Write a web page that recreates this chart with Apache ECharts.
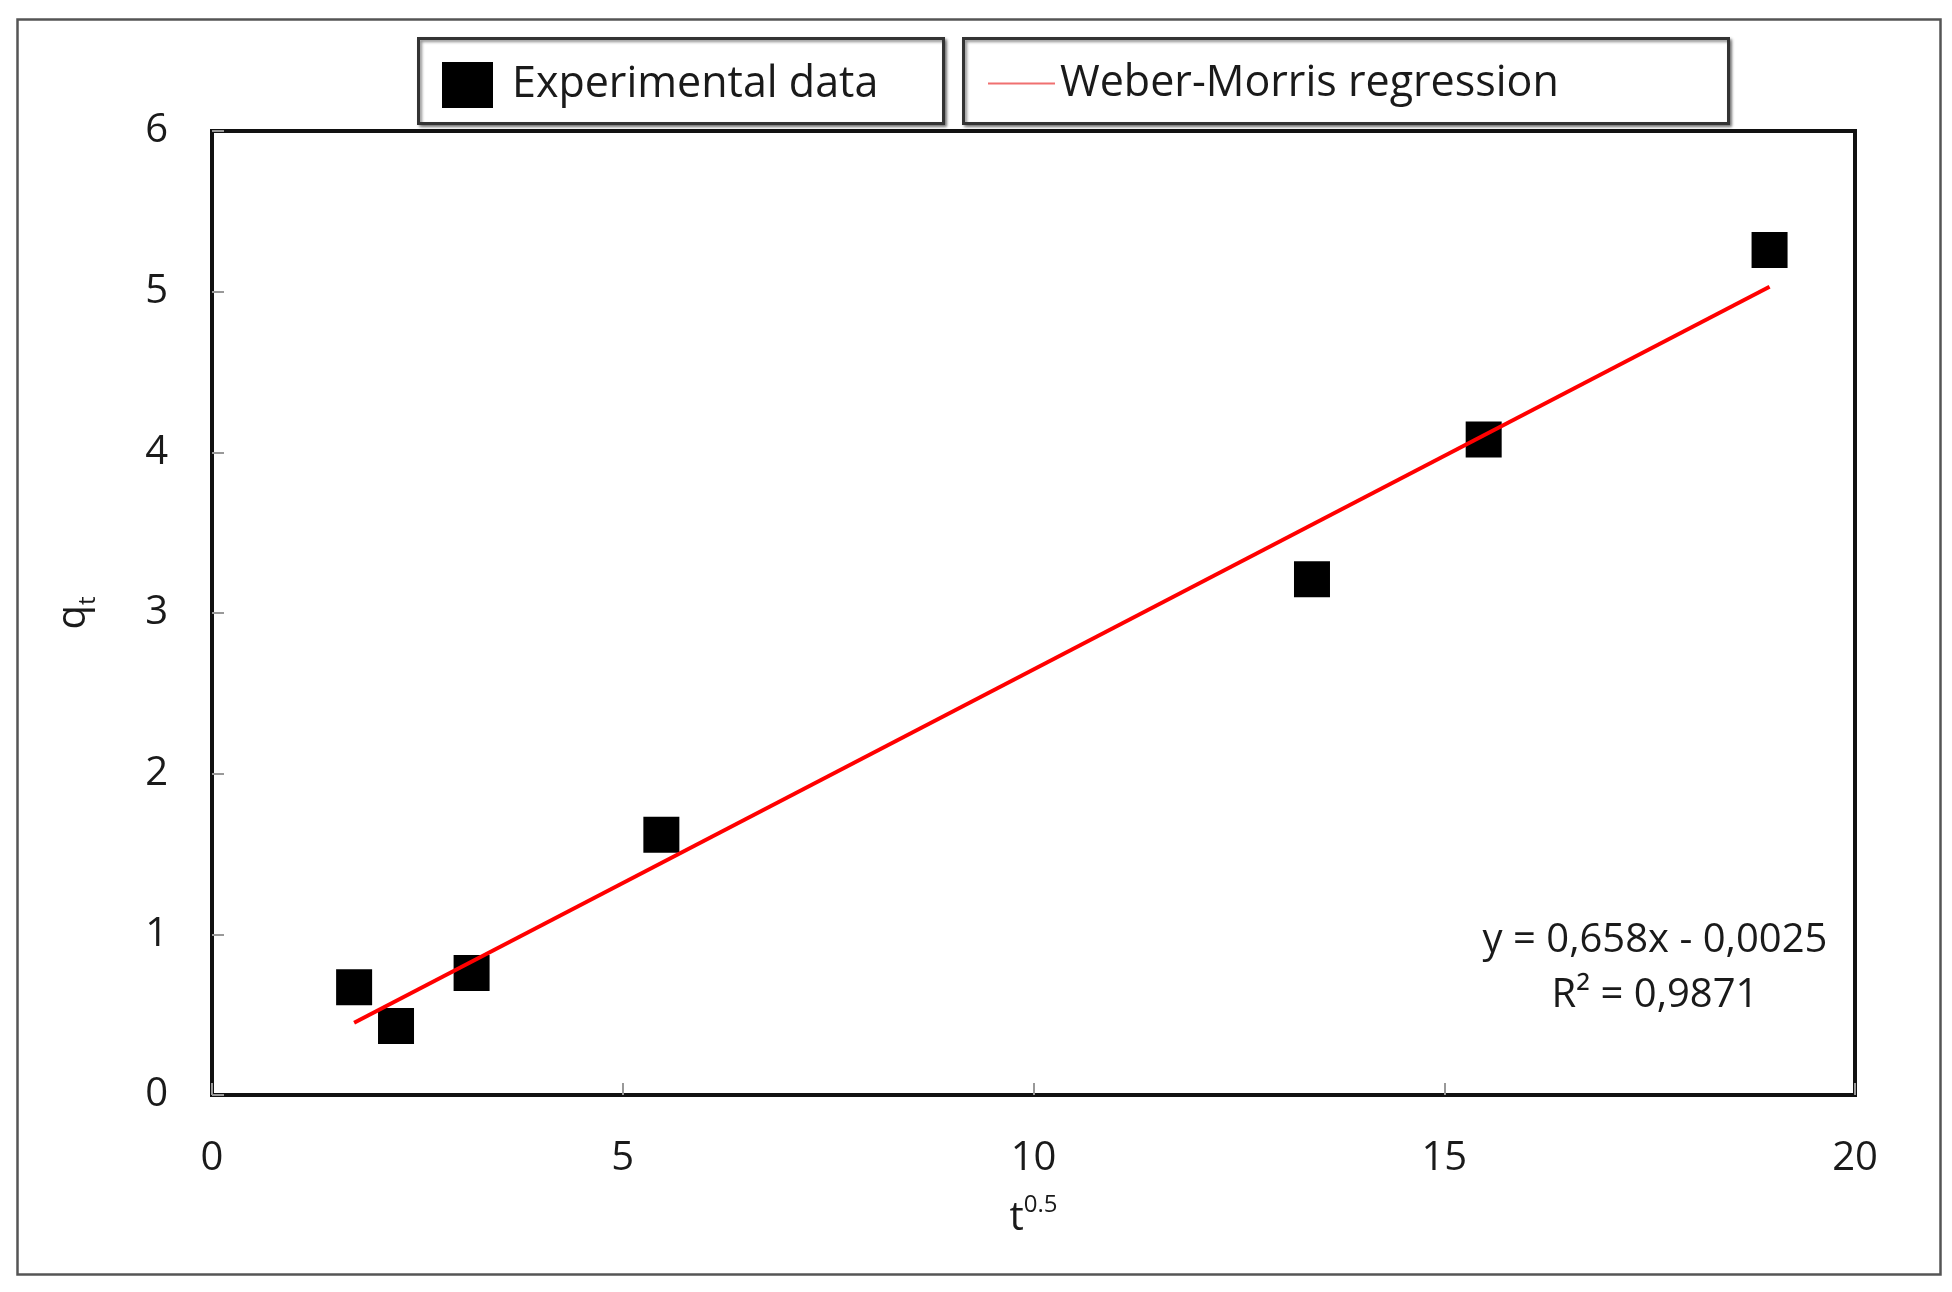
<!DOCTYPE html>
<html>
<head>
<meta charset="utf-8">
<script src="https://cdn.jsdelivr.net/npm/echarts@6/dist/echarts.min.js"></script>
<style>
html,body{margin:0;padding:0;background:#fff;}
#chart{width:1952px;height:1292px;}
</style>
</head>
<body>
<div id="chart"></div>
<script>
// Data
var tHalf = [1.73, 2.24, 3.16, 5.47, 13.39, 15.48, 18.96];
var qt = [0.67, 0.43, 0.76, 1.62, 3.21, 4.08, 5.26];
var fitX = [1.73, 18.96];
var fitY = [0.45, 5.03];
var xTicks = [0, 5, 10, 15, 20];
var yTicks = [0, 1, 2, 3, 4, 5, 6];
var seriesNames = ['Experimental data', 'Weber-Morris regression'];
var eqLines = ['y = 0,658x - 0,0025', 'R² = 0,9871'];

var FONT = 'Open Sans';
var TXT = '#1a1a1a';
var scatterData = tHalf.map(function (x, i) { return [x, qt[i]]; });
var lineData = fitX.map(function (x, i) { return [x, fitY[i]]; });

var chart = echarts.init(document.getElementById('chart'), null, {renderer: 'canvas'});
var option = {
  animation: false,
  backgroundColor: '#fff',
  textStyle: {fontFamily: FONT},
  grid: {left: 212, right: 97, top: 131, bottom: 197, show: true, borderColor: '#111', borderWidth: 4},
  xAxis: {
    type: 'value', min: xTicks[0], max: xTicks[xTicks.length - 1], interval: 5,
    name: '{b|t}{s|0.5}', nameLocation: 'middle', nameGap: 98,
    nameTextStyle: {
      rich: {
        b: {fontFamily: FONT, fontSize: 40, color: TXT, lineHeight: 46, verticalAlign: 'bottom'},
        s: {fontFamily: FONT, fontSize: 24, color: TXT, lineHeight: 46, verticalAlign: 'top', padding: [0, 0, 14, 0]}
      }
    },
    axisLine: {show: true, lineStyle: {color: '#111', width: 4}},
    axisTick: {show: true, inside: true, length: 12, lineStyle: {color: '#999', width: 2}},
    splitLine: {show: false},
    axisLabel: {fontFamily: FONT, fontSize: 40, color: TXT, margin: 44}
  },
  yAxis: {
    type: 'value', min: yTicks[0], max: yTicks[yTicks.length - 1], interval: 1,
    name: '{b|q}{s|t}', nameLocation: 'middle', nameGap: 112, nameRotate: 90,
    nameTextStyle: {
      rich: {
        b: {fontFamily: FONT, fontSize: 40, color: TXT, lineHeight: 46, verticalAlign: 'top'},
        s: {fontFamily: FONT, fontSize: 24, color: TXT, lineHeight: 46, verticalAlign: 'bottom', padding: [14, 0, 0, 0]}
      }
    },
    axisLine: {show: true, lineStyle: {color: '#111', width: 4}},
    axisTick: {show: true, inside: true, length: 12, lineStyle: {color: '#999', width: 2}},
    splitLine: {show: false},
    axisLabel: {fontFamily: FONT, fontSize: 40, color: TXT, margin: 44}
  },
  legend: [
    {
      data: [{name: seriesNames[0], icon: 'rect', itemStyle: {color: '#000', opacity: 1}}],
      left: 437, top: 57, itemWidth: 51, itemHeight: 46,
      textStyle: {fontFamily: FONT, fontSize: 43, color: TXT, padding: [0, 0, 0, 14]}
    },
    {
      data: [{name: seriesNames[1], icon: 'rect', itemStyle: {color: '#f07070', opacity: 1}}],
      left: 983, top: 57, itemWidth: 67, itemHeight: 2,
      textStyle: {fontFamily: FONT, fontSize: 43, color: TXT, padding: [0, 0, 0, 0]}
    }
  ],
  graphic: [
    {type: 'rect', left: 15, top: 17, shape: {width: 1923, height: 1255}, style: {fill: 'none', stroke: '#555', lineWidth: 2.5}, z: 0},
    {type: 'rect', left: 417, top: 37, shape: {width: 525, height: 85}, style: {fill: '#fff', stroke: '#333', lineWidth: 3, shadowBlur: 3, shadowColor: 'rgba(0,0,0,0.45)', shadowOffsetX: 2, shadowOffsetY: 2}, z: 0},
    {type: 'rect', left: 962, top: 37, shape: {width: 765, height: 85}, style: {fill: '#fff', stroke: '#333', lineWidth: 3, shadowBlur: 3, shadowColor: 'rgba(0,0,0,0.45)', shadowOffsetX: 2, shadowOffsetY: 2}, z: 0},
    {type: 'text', x: 1655, y: 941, style: {text: eqLines[0], fontFamily: FONT, fontSize: 40, fill: TXT, align: 'center', verticalAlign: 'middle'}, z: 10},
    {type: 'text', x: 1655, y: 996, style: {text: eqLines[1], fontFamily: FONT, fontSize: 40, fill: TXT, align: 'center', verticalAlign: 'middle'}, z: 10}
  ],
  series: [
    {
      name: seriesNames[0], type: 'scatter', data: scatterData,
      symbol: 'rect', symbolSize: 36, itemStyle: {color: '#000', opacity: 1}, z: 3
    },
    {
      name: seriesNames[1], type: 'line', data: lineData,
      symbol: 'none', lineStyle: {color: '#ff0000', width: 4}, itemStyle: {color: '#f07070'}, z: 4
    }
  ]
};
chart.setOption(option);
</script>
</body>
</html>
